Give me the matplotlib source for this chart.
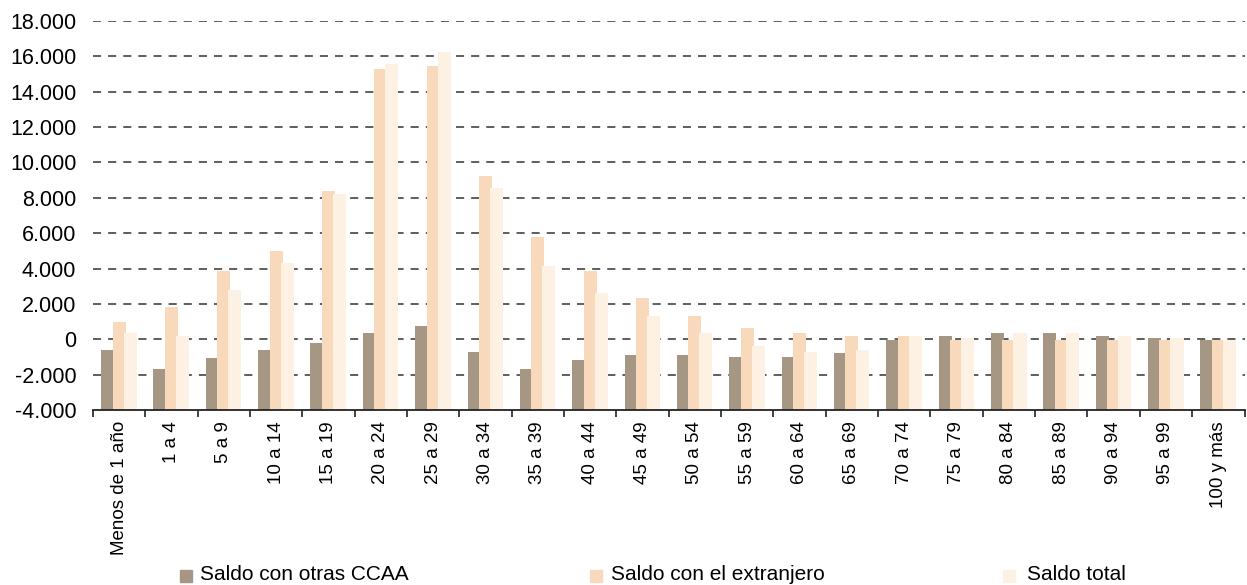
import matplotlib
matplotlib.use("Agg")
import matplotlib.pyplot as plt
from matplotlib.patches import Rectangle
from matplotlib import font_manager
import numpy as np

categories = ["Menos de 1 año", "1 a 4", "5 a 9", "10 a 14", "15 a 19", "20 a 24",
              "25 a 29", "30 a 34", "35 a 39", "40 a 44", "45 a 49", "50 a 54",
              "55 a 59", "60 a 64", "65 a 69", "70 a 74", "75 a 79", "80 a 84",
              "85 a 89", "90 a 94", "95 a 99", "100 y más"]
saldo_ccaa = [-620, -1700, -1070, -620, -230, 340, 730, -730, -1700, -1190, -900, -900,
              -1020, -1020, -790, -50, 170, 340, 340, 170, 60, -50]
saldo_extranjero = [960, 1810, 3840, 4970, 8360, 15310, 15480, 9210, 5760, 3870, 2320, 1300,
                    620, 340, 170, 170, -50, -50, -50, -50, -40, -50]
saldo_total = [356, 170, 2770, 4290, 8190, 15590, 16270, 8530, 4120, 2600, 1300, 340,
               -400, -730, -620, 170, 60, 340, 340, 170, 60, -50]
series_names = ["Saldo con otras CCAA", "Saldo con el extranjero", "Saldo total"]
colors = ["#A69785", "#F8D9BB", "#FCF1E3"]
yticks = list(range(-4000, 18001, 2000))

avail = {f.name for f in font_manager.fontManager.ttflist}
narrow = "Liberation Sans Narrow" if "Liberation Sans Narrow" in avail else "Liberation Sans"
plt.rcParams['font.family'] = ["Liberation Sans", "DejaVu Sans"]

fig = plt.figure(figsize=(12.47, 5.85), dpi=100)
ax = fig.add_axes([0.0746, 0.2991, 0.9234, 0.6650])

base = -4000
x = np.arange(len(categories))
w = 0.25
offs = [-0.22, 0.0, 0.21]
for k, (vals, c) in enumerate(zip([saldo_ccaa, saldo_extranjero, saldo_total], colors)):
    v = np.array(vals, dtype=float)
    ax.bar(x + offs[k], v - base, bottom=base, width=w, color=c, zorder=2 + k, linewidth=0)

ax.set_xlim(-0.5, len(categories) - 0.5)
ax.set_ylim(-4000, 18000)
ax.set_yticks(yticks)
ax.set_yticklabels([f"{t:,}".replace(",", ".") for t in yticks], fontsize=15.5)
for t in yticks:
    if t > -4000:
        ax.axhline(t, color="#333333", lw=1.1, dashes=(5.3, 4.6), zorder=1)

ax.set_xticks(x)
ax.set_xticklabels(categories, rotation=90, fontsize=13.5, family=[narrow, "DejaVu Sans"],
                   va="top", ha="center")
ax.set_xticks(np.arange(-0.5, len(categories), 1.0), minor=True)
ax.tick_params(axis="x", which="major", length=0, pad=8)
ax.tick_params(axis="x", which="minor", length=5, width=1.2, direction="out", color="#222222")
ax.tick_params(axis="y", length=0, pad=12)

for s in ["top", "right", "left"]:
    ax.spines[s].set_visible(False)
ax.spines["bottom"].set_color("#222222")
ax.spines["bottom"].set_linewidth(1.3)
ax.spines["bottom"].set_zorder(10)

W, H = 1247, 585
leg_x = [180, 590, 1003]
txt_x = [200, 611, 1027]
for lx, tx, name, c in zip(leg_x, txt_x, series_names, colors):
    fig.patches.append(Rectangle((lx / W, 1 - 582 / H), 12 / W, 12 / H,
                                 transform=fig.transFigure, color=c, zorder=5))
    fig.text(tx / W, 1 - 574 / H, name, fontsize=15, va="center", ha="left",
             family=[narrow, "DejaVu Sans"])

fig.savefig("out.png", dpi=100)
